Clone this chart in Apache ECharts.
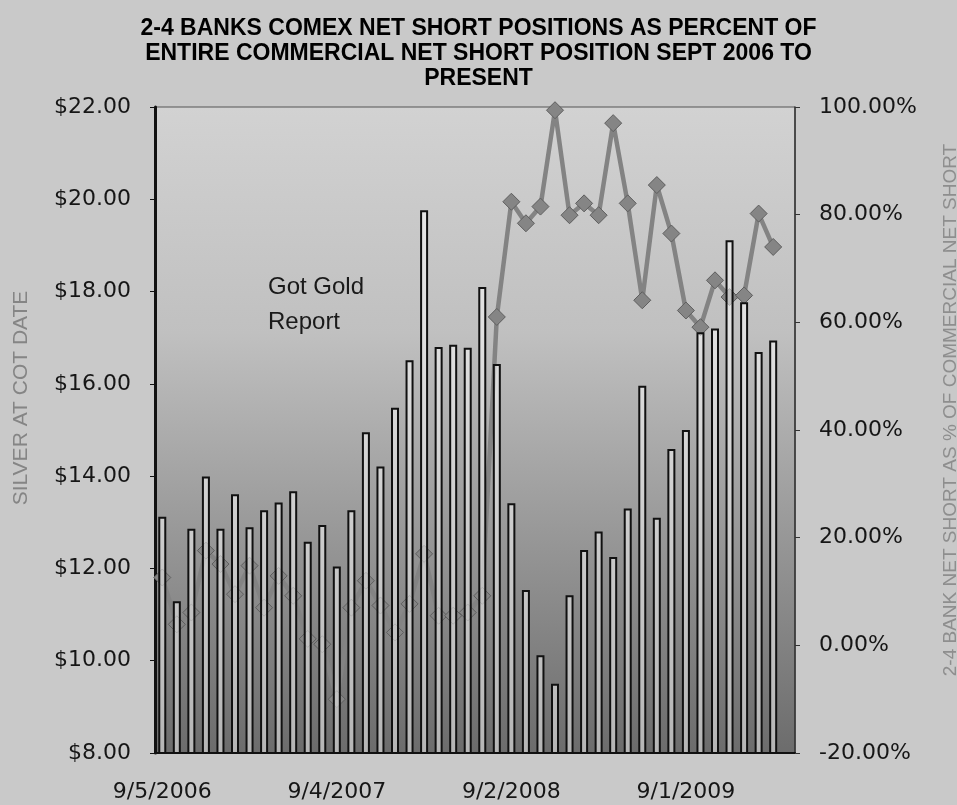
<!DOCTYPE html>
<html>
<head>
<meta charset="utf-8">
<title>2-4 Banks COMEX net short</title>
<script src="https://cdn.jsdelivr.net/npm/echarts@6/dist/echarts.min.js"></script>
<style>
  html, body { margin: 0; padding: 0; background: #c9c9c9; }
  #chart { width: 957px; height: 805px; }
</style>
</head>
<body>
<div id="chart"></div>
<script>
// COT report dates (first Tuesday of each month), one empty slot at the end
const cotDates = [
  '9/5/2006', '10/3/2006', '11/7/2006', '12/5/2006',
  '1/2/2007', '2/6/2007', '3/6/2007', '4/3/2007', '5/1/2007', '6/5/2007',
  '7/3/2007', '8/7/2007', '9/4/2007', '10/2/2007', '11/6/2007', '12/4/2007',
  '1/1/2008', '2/5/2008', '3/4/2008', '4/1/2008', '5/6/2008', '6/3/2008',
  '7/1/2008', '8/5/2008', '9/2/2008', '10/7/2008', '11/4/2008', '12/2/2008',
  '1/6/2009', '2/3/2009', '3/3/2009', '4/7/2009', '5/5/2009', '6/2/2009',
  '7/7/2009', '8/4/2009', '9/1/2009', '10/6/2009', '11/3/2009', '12/1/2009',
  '1/5/2010', '2/2/2010', '3/2/2010', '4/6/2010'
];

// silver price at COT date ($)
const silverPrice = [
  13.12, 11.29, 12.86, 13.99, 12.86, 13.61, 12.89, 13.26, 13.43, 13.67,
  12.58, 12.94, 12.04, 13.26, 14.95, 14.21, 15.48, 16.51, 19.76, 16.80,
  16.85, 16.78, 18.10, 16.43, 13.41, 11.53, 10.12, 9.50, 11.42, 12.40,
  12.80, 12.25, 13.30, 15.96, 13.10, 14.59, 15.00, 17.12, 17.20, 19.11,
  17.77, 16.69, 16.94, null
];

// 2-4 bank net short as % of commercial net short
const bankSharePct = [
  12.6, 3.9, 6.1, 17.6, 15.1, 9.5, 14.8, 7.0, 12.9, 9.2,
  1.2, 0.2, -10.0, 7.0, 12.0, 7.4, 2.4, 7.7, 17.0, 5.5,
  5.5, 6.1, 9.2, 61.0, 82.4, 78.4, 81.5, 99.4, 79.9, 82.1,
  79.9, 97.0, 82.1, 64.1, 85.5, 76.5, 62.2, 59.1, 67.8, 64.7,
  65.0, 80.2, 74.0, null
];

const titleLines = [
  '2-4 BANKS COMEX NET SHORT POSITIONS AS PERCENT OF',
  'ENTIRE COMMERCIAL NET SHORT POSITION SEPT 2006 TO',
  'PRESENT'
];

const chart = echarts.init(document.getElementById('chart'), null, { renderer: 'canvas' });

const labelFont = { fontFamily: 'DejaVu Sans', fontSize: 22, color: '#161616' };

const option = {
  backgroundColor: '#c9c9c9',
  animation: false,
  title: {
    text: titleLines.join('\n'),
    left: 'center',
    top: 11,
    textStyle: {
      fontFamily: 'Liberation Sans',
      fontWeight: 'bold',
      fontSize: 23,
      lineHeight: 25,
      color: '#000'
    }
  },
  grid: {
    left: 155,
    right: 162,
    top: 107,
    bottom: 52,
    show: true,
    borderColor: '#555',
    borderWidth: 1,
    backgroundColor: new echarts.graphic.LinearGradient(0, 0, 0, 1, [
      { offset: 0, color: '#d2d2d2' },
      { offset: 0.35, color: '#c0c0c0' },
      { offset: 1, color: '#6c6c6c' }
    ])
  },
  xAxis: {
    type: 'category',
    data: cotDates,
    boundaryGap: true,
    axisLine: { onZero: false, lineStyle: { color: '#111', width: 2 } },
    axisTick: { interval: 11, length: 5, lineStyle: { color: '#111' } },
    axisLabel: { interval: 11, margin: 28, ...labelFont },
    splitLine: { show: false }
  },
  yAxis: [
    {
      type: 'value',
      min: 8,
      max: 22,
      interval: 2,
      position: 'left',
      axisLine: { show: true, lineStyle: { color: '#111', width: 3 } },
      axisTick: { show: true, length: 5, lineStyle: { color: '#111' } },
      axisLabel: {
        margin: 24,
        ...labelFont,
        formatter: v => '$' + v.toFixed(2)
      },
      splitLine: { show: false }
    },
    {
      type: 'value',
      min: -20,
      max: 100,
      interval: 20,
      position: 'right',
      axisLine: { show: true, lineStyle: { color: '#333', width: 1.5 } },
      axisTick: { show: true, length: 5, lineStyle: { color: '#333' } },
      axisLabel: {
        margin: 24,
        ...labelFont,
        formatter: v => v.toFixed(2) + '%'
      },
      splitLine: { show: false }
    }
  ],
  graphic: [
    {
      type: 'text',
      left: 268,
      top: 270,
      style: {
        text: 'Got Gold\nReport',
        fontFamily: 'Liberation Sans',
        fontSize: 24,
        lineHeight: 35,
        fill: '#1a1a1a'
      }
    },
    {
      type: 'text',
      x: 21,
      y: 398,
      rotation: Math.PI / 2,
      style: {
        text: 'SILVER AT COT DATE',
        fontFamily: 'Liberation Sans',
        fontSize: 21,
        fill: '#858585',
        align: 'center',
        verticalAlign: 'middle'
      }
    },
    {
      type: 'text',
      x: 951,
      y: 410,
      rotation: Math.PI / 2,
      style: {
        text: '2-4 BANK NET SHORT AS % OF COMMERCIAL NET SHORT',
        fontFamily: 'Liberation Sans',
        fontSize: 19,
        fill: '#8e8e8e',
        align: 'center',
        verticalAlign: 'middle'
      }
    }
  ],
  series: [
    {
      name: 'Bank share',
      type: 'line',
      yAxisIndex: 1,
      z: 1,
      data: bankSharePct,
      symbol: 'diamond',
      symbolSize: 17,
      showAllSymbol: true,
      lineStyle: { color: '#838383', width: 4.5 },
      itemStyle: { color: '#858585', borderColor: '#5e5e5e', borderWidth: 1 }
    },
    {
      name: 'Silver',
      type: 'bar',
      yAxisIndex: 0,
      z: 3,
      startValue: 8,
      data: silverPrice,
      barWidth: 8,
      itemStyle: {
        color: 'rgba(255,255,255,0.5)',
        borderColor: '#111',
        borderWidth: 2
      }
    }
  ]
};

chart.setOption(option);
window.addEventListener('resize', () => chart.resize());
</script>
</body>
</html>
